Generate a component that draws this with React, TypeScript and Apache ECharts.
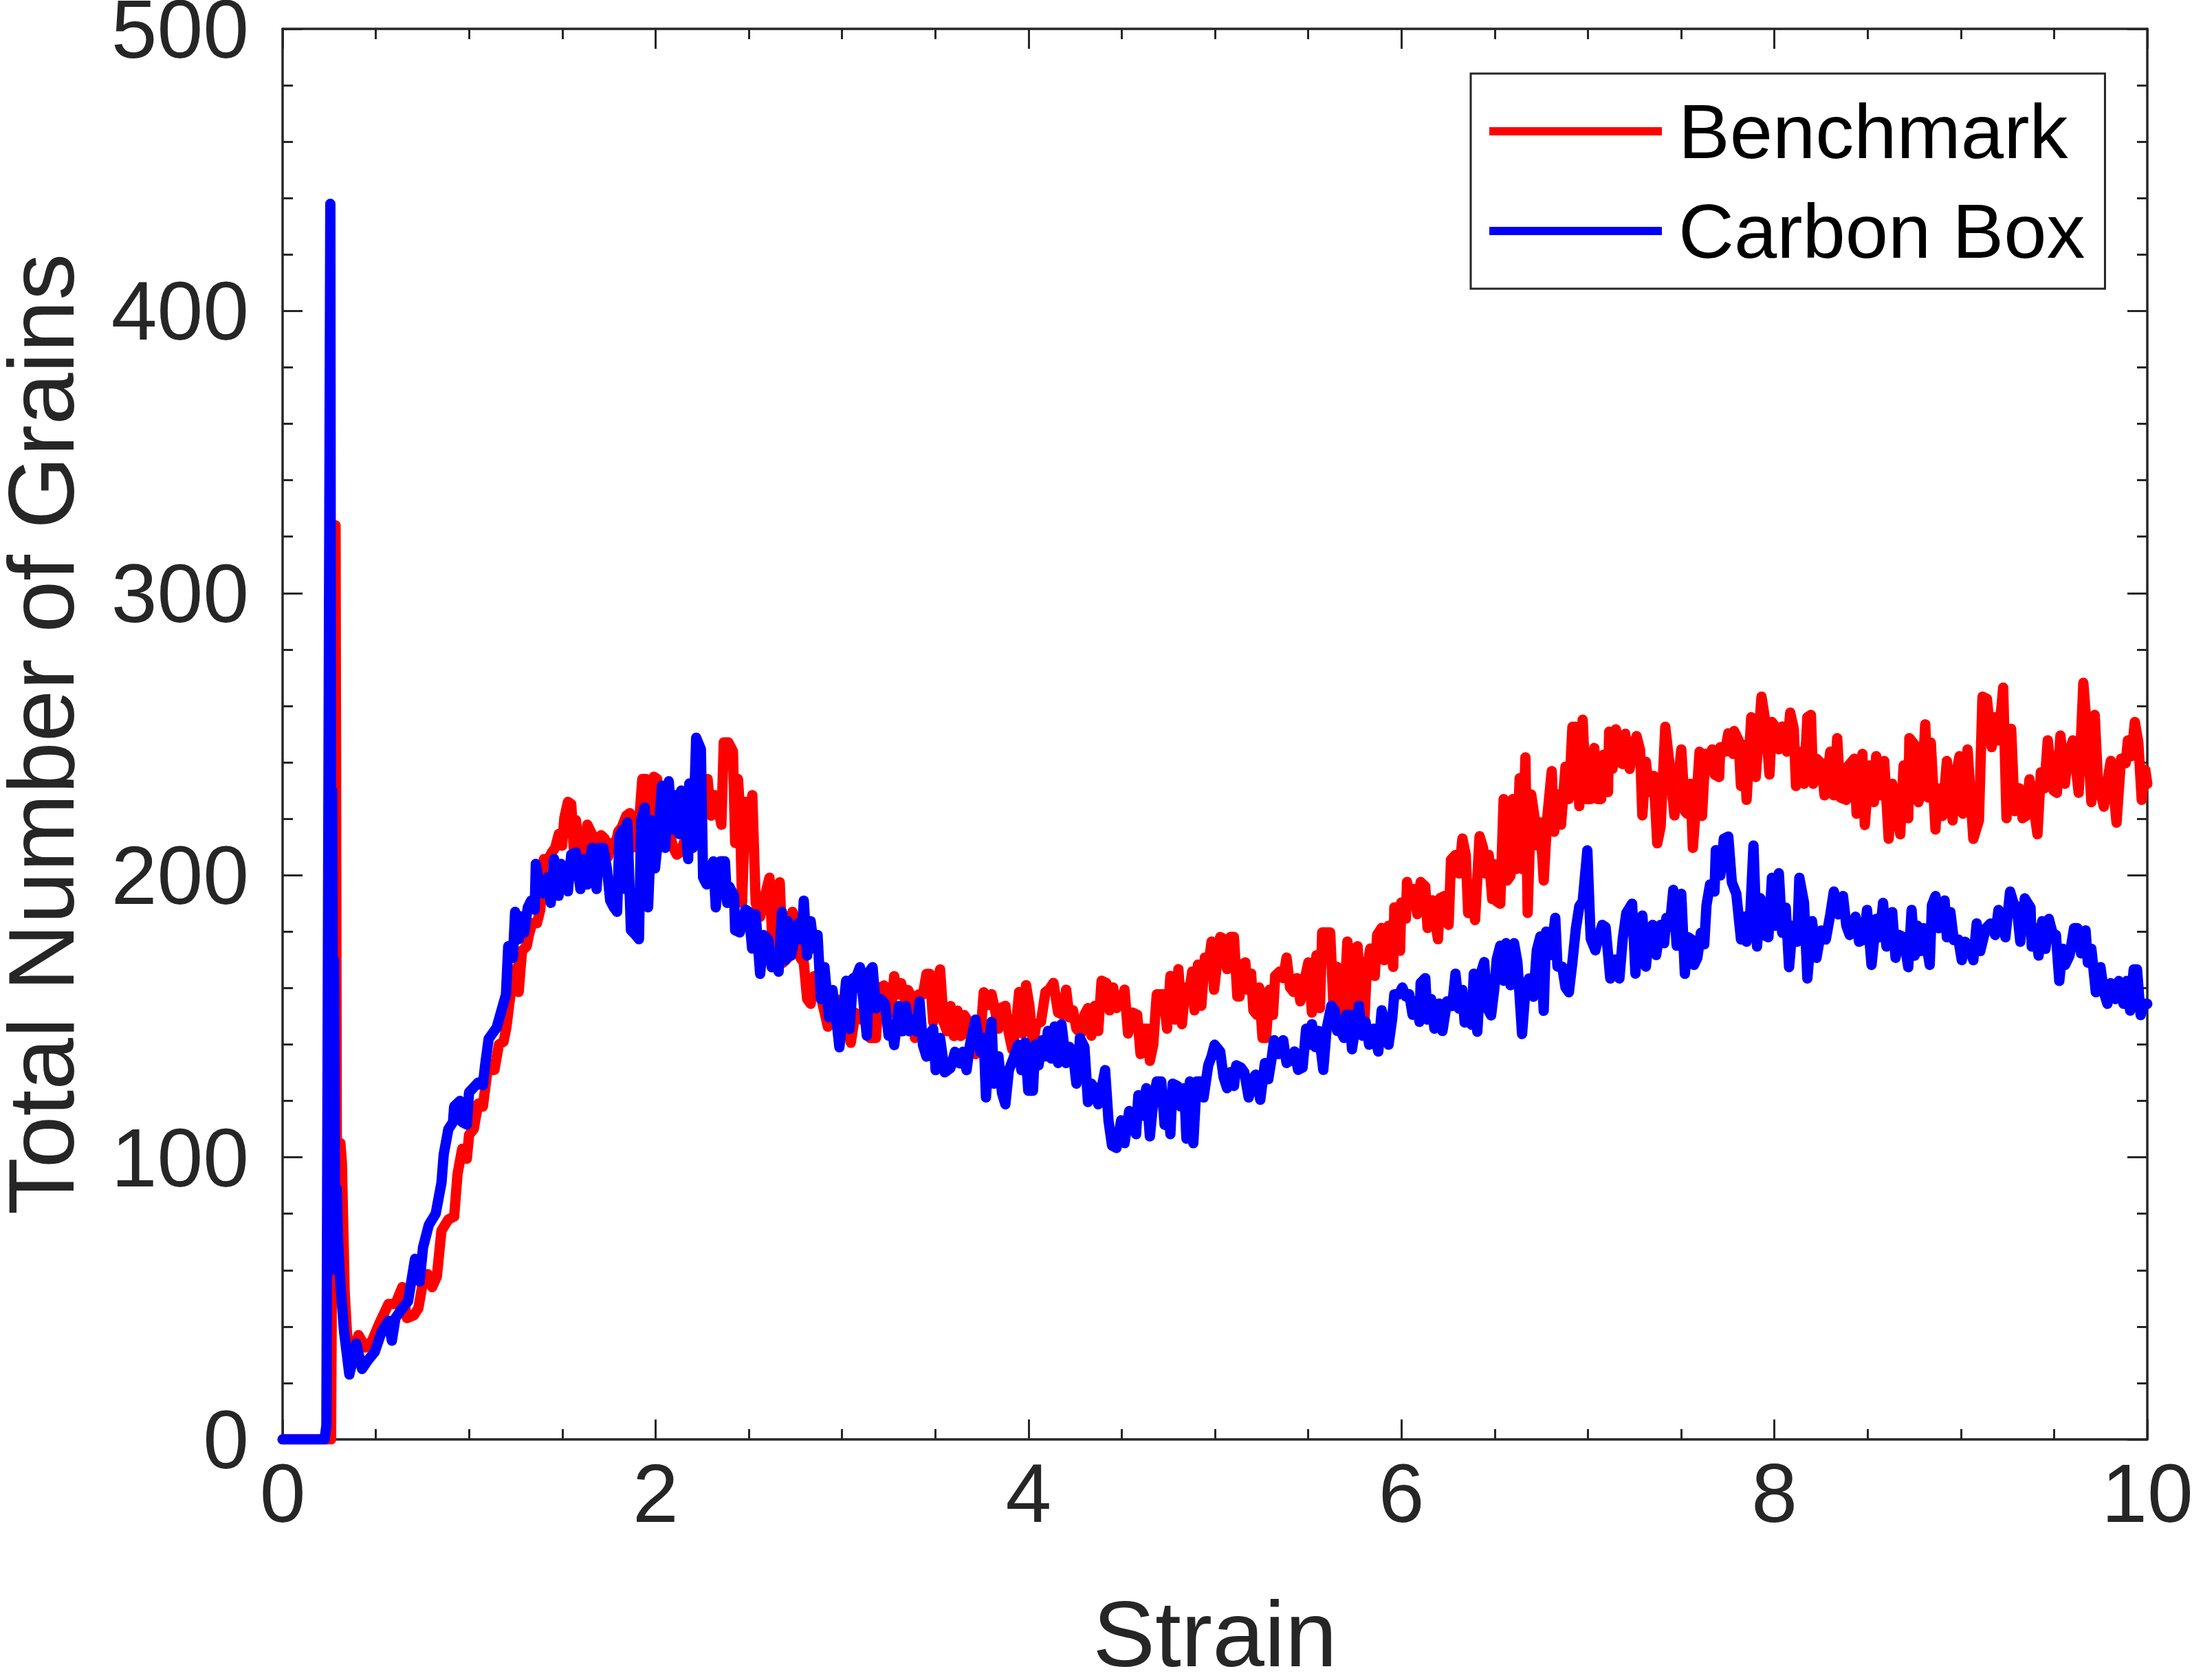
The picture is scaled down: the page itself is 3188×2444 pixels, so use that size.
import React, { useEffect, useRef } from "react";
import * as echarts from "echarts";

const FONT = '"Liberation Sans", Arial, Helvetica, sans-serif';
const AXIS_COLOR = "#262626";

const seriesNames = ["Benchmark", "Carbon Box"];
const seriesColors = ["#ff0000", "#0000ff"];

// [strain, total number of grains]
const benchmark: [number, number][] = [
  [0, 0], [0.26, 0], [0.284, 324], [0.292, 62], [0.302, 58], [0.31, 105], [0.318, 98], [0.333, 52], [0.345, 38], [0.37, 26],
  [0.395, 34], [0.407, 37], [0.444, 32.6], [0.48, 35], [0.518, 41], [0.568, 48], [0.605, 48], [0.642, 54], [0.667, 43], [0.704, 44],
  [0.728, 46.5], [0.753, 56], [0.778, 58.6], [0.802, 54], [0.827, 57.7], [0.852, 74], [0.889, 78], [0.92, 79], [0.938, 94], [0.963, 103],
  [0.988, 99.5], [1.0, 108], [1.025, 110], [1.049, 119], [1.074, 118], [1.099, 131], [1.136, 131], [1.16, 140], [1.185, 141], [1.2, 146],
  [1.222, 157.7], [1.241, 164.2], [1.259, 167.5], [1.266, 158.6], [1.284, 173.2], [1.309, 174.8], [1.321, 178.9], [1.339, 183], [1.364, 183], [1.382, 187.8],
  [1.401, 205.7], [1.425, 205.7], [1.444, 208.1], [1.462, 209.7], [1.481, 214.6], [1.499, 210.5], [1.511, 220.3], [1.53, 226], [1.548, 225.2], [1.561, 209.7],
  [1.573, 219.5], [1.591, 209.7], [1.61, 212.2], [1.622, 206.5], [1.634, 217.9], [1.653, 215.4], [1.671, 213], [1.69, 209.7], [1.708, 214.2], [1.727, 213],
  [1.745, 206.5], [1.763, 211.4], [1.782, 209.7], [1.8, 215.4], [1.819, 217], [1.843, 221.1], [1.862, 222], [1.874, 209.7], [1.892, 216.2], [1.911, 217.9],
  [1.929, 234.1], [1.948, 234.1], [1.96, 231.7], [1.979, 221.1], [1.991, 234.9], [2.009, 234.1], [2.022, 221.1], [2.04, 216.2], [2.058, 213.8], [2.077, 214.6],
  [2.095, 209.7], [2.114, 207.3], [2.132, 208.1], [2.151, 211.4], [2.169, 214.6], [2.188, 217.9], [2.206, 213], [2.224, 215.4], [2.243, 221.1], [2.261, 230],
  [2.279, 234.1], [2.298, 221.1], [2.316, 228.4], [2.335, 224.3], [2.353, 217.9], [2.366, 247.1], [2.39, 247.1], [2.415, 243.9], [2.427, 211.4], [2.442, 234.1],
  [2.452, 224.3], [2.464, 190.2], [2.482, 226], [2.501, 216.2], [2.519, 228.4], [2.537, 190.2], [2.561, 185.3], [2.586, 192.6], [2.611, 199.1], [2.629, 172.3],
  [2.647, 187], [2.666, 197.5], [2.684, 169], [2.709, 170.7], [2.734, 187], [2.752, 183.7], [2.777, 170.7], [2.795, 169], [2.813, 156.1], [2.832, 154.4],
  [2.85, 164.2], [2.869, 160.9], [2.893, 155.2], [2.924, 146.3], [2.949, 156.1], [2.967, 156.1], [2.992, 147.9], [3.022, 147.1], [3.047, 140.6], [3.072, 151.2],
  [3.102, 148.8], [3.127, 153.6], [3.151, 142.3], [3.182, 142.3], [3.2, 160.1], [3.225, 160.9], [3.25, 159.3], [3.262, 151.2], [3.28, 164.2], [3.299, 157.7],
  [3.317, 161.7], [3.336, 156.1], [3.354, 159.3], [3.379, 156.1], [3.391, 142.3], [3.41, 157.7], [3.434, 157.7], [3.453, 165], [3.471, 165], [3.489, 147.9],
  [3.508, 160.9], [3.526, 166.6], [3.545, 147.9], [3.563, 144.7], [3.582, 153.6], [3.6, 143], [3.619, 152], [3.637, 143], [3.655, 150.4], [3.68, 147.9],
  [3.698, 137.4], [3.717, 136.6], [3.741, 142], [3.76, 158.5], [3.784, 154], [3.802, 157.8], [3.821, 152.1], [3.839, 145.6], [3.852, 152.9], [3.876, 153.7],
  [3.895, 143.9], [3.913, 138.3], [3.932, 146.4], [3.95, 158.6], [3.968, 143.9], [3.987, 161], [4.005, 153.7], [4.024, 139.9], [4.042, 147.2], [4.067, 148],
  [4.091, 158.6], [4.11, 159.4], [4.134, 161.8], [4.159, 151.3], [4.184, 150.5], [4.202, 159.4], [4.22, 149.6], [4.239, 152.1], [4.257, 145.6], [4.282, 143.9],
  [4.3, 150.5], [4.319, 152.9], [4.337, 143.1], [4.356, 153.7], [4.374, 144.8], [4.392, 162.6], [4.417, 161.8], [4.435, 152.1], [4.454, 160.2], [4.472, 152.9],
  [4.497, 155.3], [4.515, 159.4], [4.534, 143.9], [4.558, 151.3], [4.583, 150.5], [4.601, 136.6], [4.62, 145.6], [4.638, 145.6], [4.651, 134.2], [4.669, 139.9],
  [4.688, 157.8], [4.706, 157.8], [4.724, 157.8], [4.743, 145.6], [4.761, 164.3], [4.786, 148.8], [4.804, 166.7], [4.823, 147.2], [4.841, 160.2], [4.859, 156.9],
  [4.878, 165.9], [4.89, 152.1], [4.909, 168.3], [4.927, 153.7], [4.946, 170.8], [4.964, 167.5], [4.982, 176.5], [4.995, 159.4], [5.028, 178.1], [5.052, 177.3],
  [5.065, 166.7], [5.083, 178.1], [5.102, 178.1], [5.12, 157], [5.132, 157], [5.145, 168.3], [5.163, 169.1], [5.175, 159.4], [5.194, 165.1], [5.206, 152.1],
  [5.225, 150.5], [5.237, 160.2], [5.255, 142.3], [5.274, 142.3], [5.292, 159.4], [5.311, 150.5], [5.323, 164.3], [5.348, 165.9], [5.366, 163.5], [5.384, 170.8],
  [5.403, 160.2], [5.421, 158.6], [5.44, 163.5], [5.458, 155.3], [5.477, 161.8], [5.501, 169.1], [5.52, 151.3], [5.544, 171.6], [5.563, 152.9], [5.575, 179.7],
  [5.599, 179.7], [5.618, 179.7], [5.636, 152.9], [5.655, 167.5], [5.673, 149.6], [5.692, 152.9], [5.71, 176.5], [5.728, 152.9], [5.747, 174], [5.765, 174.8],
  [5.784, 153.7], [5.802, 148.8], [5.814, 166.7], [5.833, 174], [5.857, 164.3], [5.87, 178.9], [5.894, 181.3], [5.907, 169.9], [5.931, 182.1], [5.956, 167.5],
  [5.962, 188.6], [5.993, 173.2], [5.999, 190.3], [6.024, 184.6], [6.03, 197.6], [6.054, 189.5], [6.066, 195.1], [6.085, 186.2], [6.103, 197.6], [6.128, 196],
  [6.14, 181.3], [6.165, 191.1], [6.196, 177.3], [6.208, 191.9], [6.233, 192.7], [6.253, 182.4], [6.266, 205.5], [6.29, 207.2], [6.309, 200.6], [6.327, 213],
  [6.345, 207.2], [6.358, 186.6], [6.376, 194], [6.395, 184.1], [6.419, 213.8], [6.438, 209.7], [6.45, 200.6], [6.468, 207.2], [6.487, 191.5], [6.499, 203.9],
  [6.511, 190.7], [6.53, 189.9], [6.548, 227], [6.567, 198.1], [6.585, 199.8], [6.597, 227], [6.616, 202.2], [6.634, 234.4], [6.647, 202.2], [6.665, 241.8],
  [6.677, 186.6], [6.696, 228.6], [6.714, 220.4], [6.726, 210.5], [6.745, 218.7], [6.763, 198.1], [6.782, 220.4], [6.806, 236.9], [6.819, 215.4], [6.837, 228.6],
  [6.856, 217.9], [6.88, 238.5], [6.898, 227], [6.917, 252.6], [6.935, 252.6], [6.954, 224.5], [6.972, 255.1], [6.991, 227], [7.015, 227], [7.034, 245.1],
  [7.052, 227], [7.071, 227], [7.083, 242.7], [7.108, 229.5], [7.114, 250.9], [7.132, 237.7], [7.15, 251.7], [7.169, 240.2], [7.187, 239.4], [7.2, 250.1],
  [7.224, 237.7], [7.243, 245.1], [7.261, 249.3], [7.28, 244.3], [7.292, 221.2], [7.311, 240.2], [7.329, 229.5], [7.353, 235.2], [7.372, 211.3], [7.39, 217.1],
  [7.415, 252.6], [7.439, 238.5], [7.464, 221.2], [7.501, 244.6], [7.52, 222.7], [7.532, 221.8], [7.55, 232.4], [7.563, 209.7], [7.581, 225.9], [7.599, 243.8],
  [7.612, 221], [7.63, 243], [7.649, 242.2], [7.667, 244.6], [7.679, 235.7], [7.704, 234.8], [7.71, 245.4], [7.735, 243.8], [7.753, 250.3], [7.778, 243],
  [7.784, 251.1], [7.808, 247.8], [7.821, 231.6], [7.839, 246.2], [7.851, 226.7], [7.876, 256], [7.9, 234.8], [7.931, 263.3], [7.95, 255.2], [7.974, 235.7],
  [7.987, 254.3], [8.005, 252.7], [8.024, 244.6], [8.042, 252.7], [8.067, 243.8], [8.085, 257.6], [8.104, 251.9], [8.116, 231.6], [8.141, 243.8], [8.159, 232.4],
  [8.177, 256], [8.196, 256.8], [8.208, 232.4], [8.226, 241.3], [8.251, 239.7], [8.269, 228.3], [8.3, 243.8], [8.319, 228.3], [8.337, 248.6], [8.355, 227.5],
  [8.386, 226.7], [8.398, 238.9], [8.429, 241.3], [8.441, 221.8], [8.472, 243], [8.485, 217.8], [8.509, 238.9], [8.534, 225.9], [8.546, 242.2], [8.57, 228.3],
  [8.589, 240.5], [8.613, 212.9], [8.632, 232.4], [8.65, 224.3], [8.675, 214.5], [8.693, 238.9], [8.718, 220.2], [8.724, 248.6], [8.753, 246.2], [8.772, 225.9],
  [8.79, 229.2], [8.809, 253.5], [8.827, 227.5], [8.839, 247], [8.864, 216.2], [8.876, 230.8], [8.901, 221], [8.925, 240.5], [8.956, 219.4], [8.968, 234],
  [8.993, 242.2], [9.011, 221.8], [9.036, 244.6], [9.067, 212.9], [9.097, 219.4], [9.116, 263.3], [9.14, 262.5], [9.165, 245.4], [9.184, 256], [9.202, 247.8],
  [9.227, 266.5], [9.245, 220.2], [9.27, 251.9], [9.288, 222.7], [9.313, 230.8], [9.331, 220.2], [9.35, 221], [9.368, 234], [9.387, 225.9], [9.411, 214.5],
  [9.429, 236.5], [9.448, 230.8], [9.466, 247.8], [9.497, 230], [9.515, 229.2], [9.534, 249.5], [9.558, 232.4], [9.577, 243], [9.601, 247.8], [9.632, 229.2],
  [9.657, 268.2], [9.681, 247], [9.7, 225.9], [9.718, 256.8], [9.736, 232.4], [9.767, 224.3], [9.786, 233.2], [9.804, 240.5], [9.835, 218.6], [9.859, 241.3],
  [9.884, 239.7], [9.896, 247.8], [9.915, 242.2], [9.933, 254.3], [9.952, 247], [9.97, 226.7], [9.989, 237.3], [10, 232.4],
];

const carbonBox: [number, number][] = [
  [0, 0], [0.225, 0], [0.235, 5], [0.256, 438], [0.262, 60], [0.266, 230], [0.271, 90], [0.276, 170], [0.282, 66], [0.29, 89],
  [0.298, 70], [0.31, 55], [0.33, 38], [0.358, 23], [0.395, 34], [0.426, 25], [0.457, 28], [0.494, 31], [0.53, 38], [0.568, 42],
  [0.586, 35], [0.605, 43], [0.642, 46.5], [0.673, 49], [0.71, 64], [0.735, 56], [0.753, 68], [0.784, 76], [0.821, 80], [0.852, 91],
  [0.864, 101], [0.889, 110], [0.914, 112.5], [0.92, 118], [0.951, 120], [0.963, 112.5], [0.988, 111.6], [1.0, 123], [1.049, 126.5], [1.074, 125.6],
  [1.086, 132.6], [1.105, 142], [1.148, 146], [1.198, 157.7], [1.21, 174.8], [1.235, 170.7], [1.247, 187], [1.266, 177.3], [1.278, 185.4], [1.296, 179.7],
  [1.315, 188.6], [1.333, 191], [1.352, 187.8], [1.358, 204], [1.376, 196.7], [1.4, 193.5], [1.419, 199.2], [1.438, 190.2], [1.456, 205.7], [1.48, 192.7],
  [1.493, 204], [1.511, 200], [1.53, 194.3], [1.548, 207.3], [1.573, 208.1], [1.597, 195.1], [1.616, 205.7], [1.634, 196.7], [1.659, 209.7], [1.684, 195.1],
  [1.696, 209.7], [1.72, 209.7], [1.739, 202.4], [1.757, 191], [1.776, 188.6], [1.794, 187], [1.806, 213.8], [1.825, 216.2], [1.837, 195.1], [1.849, 218.7],
  [1.868, 180.5], [1.892, 178.9], [1.911, 177.3], [1.923, 219.5], [1.942, 224], [1.96, 188.6], [1.979, 219.5], [1.997, 202.4], [2.015, 213.8], [2.034, 231.7],
  [2.052, 209.7], [2.071, 233.3], [2.089, 216.2], [2.108, 228.4], [2.126, 214.6], [2.138, 230], [2.157, 221.1], [2.175, 205.7], [2.181, 232.5], [2.2, 209.7],
  [2.218, 248.7], [2.243, 244.7], [2.255, 199.2], [2.274, 196.7], [2.292, 201.6], [2.31, 204.9], [2.323, 188.6], [2.347, 204.9], [2.372, 204.9], [2.384, 190.2],
  [2.396, 195.9], [2.421, 192.7], [2.427, 180.5], [2.452, 179.7], [2.482, 187.8], [2.5, 187], [2.518, 174], [2.537, 186.1], [2.561, 165], [2.58, 178.8],
  [2.604, 177.2], [2.623, 167.4], [2.641, 169], [2.66, 165.8], [2.678, 187], [2.697, 169.9], [2.709, 183.7], [2.727, 171.5], [2.746, 178], [2.764, 182.9],
  [2.783, 177.2], [2.795, 191], [2.813, 171.5], [2.832, 183.7], [2.85, 174], [2.869, 178.8], [2.887, 156.1], [2.906, 167.4], [2.93, 149.6], [2.949, 159.3],
  [2.967, 150.4], [2.986, 139], [3.004, 150.4], [3.022, 162.6], [3.041, 145.5], [3.059, 163.4], [3.078, 164.2], [3.096, 167.4], [3.115, 155.2], [3.133, 143.1],
  [3.145, 165.8], [3.164, 167.4], [3.182, 152.8], [3.207, 156.1], [3.231, 154.4], [3.25, 143.1], [3.268, 145.5], [3.28, 139.8], [3.305, 153.6], [3.324, 144.7],
  [3.342, 153.6], [3.36, 144.7], [3.379, 148.8], [3.397, 144.7], [3.416, 155.2], [3.434, 139.8], [3.453, 135.7], [3.471, 143.9], [3.489, 145.5], [3.502, 130.9],
  [3.526, 142.3], [3.551, 130.1], [3.582, 131.7], [3.606, 137.4], [3.631, 133.3], [3.649, 137.4], [3.668, 130.9], [3.686, 139.8], [3.716, 148.8], [3.741, 137.4],
  [3.76, 142.3], [3.772, 121.2], [3.79, 140.7], [3.802, 148], [3.815, 126.1], [3.839, 135.8], [3.858, 122.8], [3.876, 118.8], [3.895, 130.9], [3.919, 135],
  [3.944, 139.9], [3.962, 130.9], [3.981, 140.7], [3.999, 123.6], [4.024, 123.6], [4.036, 139.9], [4.054, 132.6], [4.073, 141.5], [4.091, 135.8], [4.104, 144.8],
  [4.122, 135], [4.14, 146.4], [4.159, 133.4], [4.177, 147.2], [4.202, 133.4], [4.22, 139.1], [4.239, 136.6], [4.257, 126.1], [4.276, 142.3], [4.3, 139.1],
  [4.319, 119.6], [4.337, 126.1], [4.356, 124.5], [4.374, 118.8], [4.392, 124.5], [4.411, 130.9], [4.429, 113.1], [4.448, 104.2], [4.472, 103.3], [4.497, 113.1],
  [4.515, 105], [4.54, 116.4], [4.558, 115.5], [4.577, 108.2], [4.589, 122], [4.607, 114.7], [4.632, 124.5], [4.651, 107.4], [4.669, 119.6], [4.688, 126.9],
  [4.712, 126.9], [4.73, 111.5], [4.749, 121.2], [4.761, 108.2], [4.773, 126.1], [4.798, 125.3], [4.816, 118], [4.835, 124.5], [4.847, 106.6], [4.866, 126.9],
  [4.884, 105], [4.902, 126.9], [4.921, 126.9], [4.939, 121.2], [4.964, 132.6], [4.982, 135.8], [4.998, 139.9], [5.028, 137.5], [5.046, 128.5], [5.065, 124.5],
  [5.083, 130.2], [5.102, 125.3], [5.114, 132.6], [5.139, 131.8], [5.157, 130.2], [5.181, 121.2], [5.2, 127.7], [5.218, 129.3], [5.243, 120.4], [5.268, 133.4],
  [5.286, 127.7], [5.304, 135], [5.317, 141.5], [5.341, 136.6], [5.366, 141.5], [5.384, 133.4], [5.403, 134.2], [5.427, 137.5], [5.446, 131], [5.47, 131.8],
  [5.489, 145.6], [5.507, 139.9], [5.52, 147.2], [5.538, 139.1], [5.556, 144.8], [5.581, 131], [5.599, 145.6], [5.624, 153.7], [5.642, 152.1], [5.655, 144.8],
  [5.673, 144.8], [5.692, 142.3], [5.704, 150.5], [5.722, 150.5], [5.735, 138.3], [5.753, 146.4], [5.772, 153.7], [5.79, 143.1], [5.808, 148], [5.827, 139.9],
  [5.851, 145.6], [5.876, 137.5], [5.894, 152.1], [5.913, 147.2], [5.931, 139.9], [5.95, 148.8], [5.962, 157.8], [5.987, 157.8], [6.005, 160.2], [6.024, 157],
  [6.042, 157.8], [6.06, 150.5], [6.079, 155.3], [6.097, 148], [6.103, 161.8], [6.128, 163.5], [6.14, 148.8], [6.159, 156.1], [6.177, 145.6], [6.202, 154.5],
  [6.22, 144.8], [6.245, 155.3], [6.272, 153.6], [6.29, 165.1], [6.309, 152.7], [6.327, 159.3], [6.339, 147.8], [6.358, 152.7], [6.376, 147], [6.388, 165.1],
  [6.407, 144.5], [6.425, 165.1], [6.444, 169.2], [6.462, 152.7], [6.481, 150.3], [6.499, 160.2], [6.511, 170.1], [6.53, 175], [6.548, 162.6], [6.561, 175.9],
  [6.585, 161], [6.604, 175.9], [6.622, 169.2], [6.647, 143.7], [6.665, 159.3], [6.684, 163.4], [6.708, 156.9], [6.726, 173.4], [6.745, 178.3], [6.763, 151.9],
  [6.776, 180], [6.8, 171.7], [6.825, 184.9], [6.837, 167.6], [6.862, 167.6], [6.88, 160.2], [6.898, 158.5], [6.917, 169.2], [6.935, 180.8], [6.954, 189],
  [6.972, 190.7], [6.997, 208.8], [7.015, 177.5], [7.04, 173.4], [7.058, 178.3], [7.077, 182.4], [7.095, 181.6], [7.12, 163.4], [7.144, 170.1], [7.169, 163.4],
  [7.187, 177.5], [7.206, 186.6], [7.237, 189.9], [7.255, 165.1], [7.274, 184.1], [7.292, 185.7], [7.311, 167.6], [7.329, 180], [7.347, 182.4], [7.366, 171.7],
  [7.39, 182.4], [7.409, 175.9], [7.421, 184.9], [7.439, 181.6], [7.458, 194.8], [7.476, 175], [7.501, 193.4], [7.52, 165], [7.538, 178], [7.556, 177.2],
  [7.569, 168.2], [7.587, 170.7], [7.606, 179.6], [7.624, 175.5], [7.636, 189.4], [7.655, 196.7], [7.679, 194.2], [7.686, 208.9], [7.71, 199.9], [7.729, 212.9],
  [7.753, 213.7], [7.772, 197.5], [7.796, 193.4], [7.821, 177.2], [7.839, 185.3], [7.851, 176.4], [7.87, 185.3], [7.888, 210.5], [7.907, 174.7], [7.925, 191.8],
  [7.944, 178.8], [7.968, 178], [7.987, 199.1], [8.005, 182.1], [8.024, 200.7], [8.042, 179.6], [8.061, 188.5], [8.079, 167.4], [8.098, 182.1], [8.122, 176.4],
  [8.134, 199.1], [8.159, 190.2], [8.177, 163.4], [8.202, 183.7], [8.226, 170.7], [8.251, 180.4], [8.276, 177.2], [8.3, 186.1], [8.319, 194.2], [8.343, 186.1],
  [8.368, 192.6], [8.386, 182.1], [8.404, 178.8], [8.435, 185.3], [8.454, 176.4], [8.478, 177.2], [8.497, 187.7], [8.521, 168.2], [8.546, 184.5], [8.564, 178],
  [8.583, 190.2], [8.601, 174.7], [8.632, 186.9], [8.65, 170.7], [8.669, 178.8], [8.693, 178], [8.718, 167.4], [8.736, 187.7], [8.753, 171.5], [8.766, 182.1],
  [8.784, 173.1], [8.802, 181.2], [8.833, 168.2], [8.845, 189.4], [8.864, 192.6], [8.882, 181.2], [8.913, 191], [8.925, 178], [8.944, 186.9], [8.962, 177],
  [8.987, 177.2], [9.005, 169.9], [9.024, 176.4], [9.048, 173.9], [9.067, 169.9], [9.085, 182.9], [9.104, 173.1], [9.134, 181.2], [9.159, 182.9], [9.184, 178.8],
  [9.202, 187.7], [9.227, 185.3], [9.239, 178], [9.264, 194.2], [9.282, 190.2], [9.3, 188.5], [9.319, 176.4], [9.343, 191.8], [9.374, 188.5], [9.38, 174.7],
  [9.399, 181.2], [9.417, 171.5], [9.436, 183.7], [9.454, 173.9], [9.472, 184.5], [9.491, 179.6], [9.51, 178.8], [9.528, 162.5], [9.546, 173.9], [9.559, 168.2],
  [9.583, 171.5], [9.607, 181.2], [9.626, 181.2], [9.644, 172.3], [9.669, 180.4], [9.681, 169], [9.7, 173.9], [9.724, 158.5], [9.749, 167.4], [9.767, 158.5],
  [9.786, 154.4], [9.804, 161.7], [9.829, 156.1], [9.847, 162.5], [9.872, 154.4], [9.89, 162.5], [9.908, 152], [9.927, 166.6], [9.945, 166.6], [9.964, 150.4],
  [9.982, 154.4], [10, 154.4],
];

const xRange = { min: 0, max: 10, interval: 2, minorSplit: 4 };
const yRange = { min: 0, max: 500, interval: 100, minorSplit: 5 };

function axisCommon(showLabel: boolean) {
  return {
    axisLine: { show: true, onZero: false, lineStyle: { color: AXIS_COLOR, width: 3.5 } },
    axisTick: { show: true, inside: true, length: 29, lineStyle: { color: AXIS_COLOR, width: 3 } },
    minorTick: { show: true, length: 15, lineStyle: { color: AXIS_COLOR, width: 3 } },
    splitLine: { show: false },
    minorSplitLine: { show: false },
    axisLabel: { show: showLabel, fontSize: 120, color: AXIS_COLOR, fontFamily: FONT },
  };
}

export default function App() {
  const ref = useRef<HTMLDivElement>(null);
  useEffect(() => {
    document.body.style.margin = "0";
    document.body.style.overflow = "hidden";
    if (!ref.current) return;
    const chart = echarts.init(ref.current, undefined, { renderer: "svg" });
    const xBase = (pos: string, showLabel: boolean) => {
      const c: any = axisCommon(showLabel);
      c.minorTick.splitNumber = xRange.minorSplit;
      return {
        type: "value", position: pos, min: xRange.min, max: xRange.max, interval: xRange.interval,
        ...c,
        axisLabel: { ...c.axisLabel, margin: 18 },
      };
    };
    const yBase = (pos: string, showLabel: boolean) => {
      const c: any = axisCommon(showLabel);
      c.minorTick.splitNumber = yRange.minorSplit;
      return {
        type: "value", position: pos, min: yRange.min, max: yRange.max, interval: yRange.interval,
        ...c,
        axisLabel: { ...c.axisLabel, margin: 49 },
      };
    };
    const option: any = {
      animation: false,
      backgroundColor: "#ffffff",
      grid: { left: 411, top: 42, width: 2712, height: 2052, containLabel: false, outerBoundsMode: "none" },
      xAxis: [
        {
          ...xBase("bottom", true),
          name: "Strain", nameLocation: "middle", nameGap: 215,
          nameTextStyle: { fontSize: 136, color: AXIS_COLOR, fontFamily: FONT },
        },
        xBase("top", false),
      ],
      yAxis: [
        {
          ...yBase("left", true),
          name: "Total Number of Grains", nameLocation: "middle", nameGap: 283,
          nameTextStyle: { fontSize: 136, color: AXIS_COLOR, fontFamily: FONT },
        },
        yBase("right", false),
      ],
      legend: {
        orient: "vertical", left: 2139, top: 107,
        padding: [24, 29, 24, 27],
        itemWidth: 251, itemHeight: 12, itemGap: 25,
        icon: "rect",
        borderColor: AXIS_COLOR, borderWidth: 3, backgroundColor: "#ffffff",
        textStyle: { fontSize: 112, color: "#000000", fontFamily: FONT, lineHeight: 120, padding: [0, 0, 0, 19] },
        data: seriesNames,
      },
      series: [
        {
          name: seriesNames[0], type: "line", data: benchmark, xAxisIndex: 0, yAxisIndex: 0,
          showSymbol: false, symbol: "none",
          itemStyle: { color: seriesColors[0] },
          lineStyle: { color: seriesColors[0], width: 15, cap: "round", join: "round" },
          z: 2,
        },
        {
          name: seriesNames[1], type: "line", data: carbonBox, xAxisIndex: 0, yAxisIndex: 0,
          showSymbol: false, symbol: "none",
          itemStyle: { color: seriesColors[1] },
          lineStyle: { color: seriesColors[1], width: 15, cap: "round", join: "round" },
          z: 3,
        },
      ],
    };
    chart.setOption(option);
    return () => chart.dispose();
  }, []);
  return <div ref={ref} style={{ position: "fixed", left: 0, top: 0, width: 3188, height: 2444 }} />;
}
